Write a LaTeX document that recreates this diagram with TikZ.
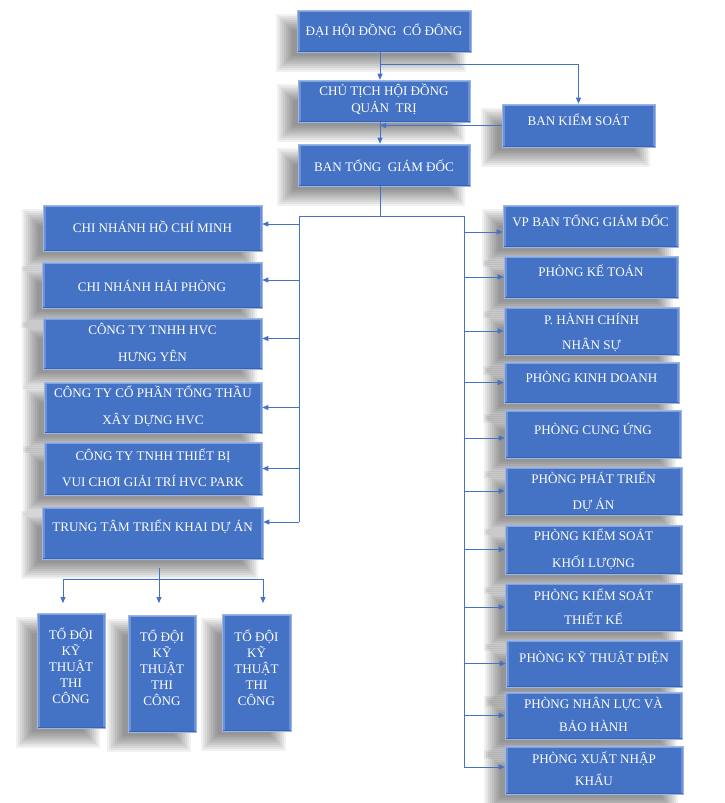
\documentclass[tikz,border=0pt]{standalone}
\usepackage{fontspec}
\setmainfont{Liberation Serif}
\usetikzlibrary{arrows.meta,calc}
\definecolor{boxfill}{HTML}{4472C4}
\definecolor{boxedge}{HTML}{9DB5E2}
\definecolor{bevside}{HTML}{6B92D8}
\definecolor{bevtop}{HTML}{7FA2E0}
\definecolor{bevbot}{HTML}{3A64B0}
\definecolor{linec}{HTML}{4472C4}
\pgfdeclarelayer{shadow}
\pgfsetlayers{shadow,main}
\tikzset{
  orgbox/.style={rectangle, inner sep=0pt, fill=boxfill, draw=boxedge, line width=0.6pt,
    path picture={
      \fill[bevside] (path picture bounding box.south west) rectangle ([xshift=2.5pt]path picture bounding box.north west);
      \fill[bevside] (path picture bounding box.south east) rectangle ([xshift=-2.5pt]path picture bounding box.north east);
      \fill[bevtop] (path picture bounding box.north west) rectangle ([yshift=-1.5pt]path picture bounding box.north east);
      \fill[bevbot] (path picture bounding box.south west) rectangle ([yshift=1.5pt]path picture bounding box.south east);
    }},
  shadowlayer/.style={fill=black, opacity=0.055},
  orgtext/.style={text=white, align=center, inner sep=0pt, font=\fontsize{13.1}{16}\selectfont},
  conn/.style={draw=linec, line width=0.9pt},
  arr/.style={conn, -{Triangle[length=6pt,width=5pt]}}
}
\newcommand\orgbox[7]{%
  \begin{pgfonlayer}{shadow}
  \foreach \k in {-8,-6,...,8} {
    \fill[shadowlayer] ({#2-13-(\k)},{#3+12-(\k)}) rectangle ({#4-13+(\k)},{#5+12+(\k)});
  }
  \end{pgfonlayer}
  \node[orgbox, minimum width=#4pt-#2pt, minimum height=#5pt-#3pt] (#1) at ({(#2+#4)/2},{(#3+#5)/2}) {};
  \node[orgtext] (#1t) at ({(#2+#4)/2},#6) {#7};
}
\begin{document}
\begin{tikzpicture}[x=1pt,y=-1pt]
\begin{pgfonlayer}{shadow}
\fill[white] (0,0) rectangle (724,803);
\end{pgfonlayer}
\useasboundingbox (0,0) rectangle (724,803);
% top part
\orgbox{top}{297}{10}{471}{52}{31}{ĐẠI HỘI ĐỒNG\ \ CỔ ĐÔNG}
\orgbox{cth}{298}{80}{470}{122}{99.5}{CHỦ TỊCH HỘI ĐỒNG\\[1pt]QUẢN\ \ TRỊ}
\orgbox{bks}{502}{104}{655}{147}{120}{BAN KIỂM SOÁT}
\orgbox{bt}{298}{144}{470}{186}{166}{BAN TỔNG\ \ GIÁM ĐỐC}
% left column
\orgbox{l1}{43}{205}{262}{251}{227}{CHI NHÁNH HỒ CHÍ MINH}
\orgbox{l2}{42}{262}{262}{308}{286}{CHI NHÁNH HẢI PHÒNG}
\orgbox{l3}{43}{318}{262}{369}{342.5}{CÔNG TY TNHH HVC\\[11pt]HƯNG YÊN}
\orgbox{l4}{44}{382}{262}{433}{406.5}{CÔNG TY CỔ PHẦN TỔNG THẦU\\[11pt]XÂY DỰNG HVC}
\orgbox{l5}{44}{442}{262}{495}{468}{CÔNG TY TNHH THIẾT BỊ\\[10pt]VUI CHƠI GIẢI TRÍ HVC PARK}
\orgbox{l6}{42}{507}{263}{559}{527}{TRUNG\ TÂM TRIỂN KHAI DỰ ÁN}
% right column
\orgbox{r1}{503}{205}{678}{247}{221}{VP BAN TỔNG GIÁM ĐỐC}
\orgbox{r2}{504}{256}{678}{298}{271}{PHÒNG KẾ TOÁN}
\orgbox{r3}{504}{307}{679}{355}{332.5}{P. HÀNH CHÍNH\\[9pt]NHÂN SỰ}
\orgbox{r4}{504}{362}{679}{403}{377}{PHÒNG KINH DOANH}
\orgbox{r5}{505}{410}{681}{458}{429}{PHÒNG CUNG ỨNG}
\orgbox{r6}{505}{467}{682}{515}{492}{PHÒNG PHÁT TRIỂN\\[10pt]DỰ ÁN}
\orgbox{r7}{505}{525}{682}{574}{549.5}{PHÒNG KIỂM SOÁT\\[11pt]KHỐI LƯỢNG}
\orgbox{r8}{505}{583}{682}{631}{607}{PHÒNG KIỂM SOÁT\\[8pt]THIẾT KẾ}
\orgbox{r9}{506}{640}{682}{687}{658}{PHÒNG KỸ THUẬT ĐIỆN}
\orgbox{r10}{505}{692}{682}{739}{714.5}{PHÒNG NHÂN LỰC VÀ\\[7pt]BẢO HÀNH}
\orgbox{r11}{505}{746}{683}{794}{769}{PHÒNG XUẤT NHẬP\\[6pt]KHẨU}
% teams
\orgbox{t1}{37}{613}{105}{728}{666}{TỔ ĐỘI\\KỸ\\THUẬT\\THI\\CÔNG}
\orgbox{t2}{128}{615}{196}{732}{668}{TỔ ĐỘI\\KỸ\\THUẬT\\THI\\CÔNG}
\orgbox{t3}{222}{614}{291}{731}{668}{TỔ ĐỘI\\KỸ\\THUẬT\\THI\\CÔNG}
% connector coordinates
\coordinate (sp) at (380,0);
\coordinate (br) at (380,64);
\coordinate (jn) at (380,216);
\coordinate (lb) at (299,216);
\coordinate (rb) at (464,216);
\coordinate (rbe) at (464,767);
\coordinate (tjs) at (159,568);
\coordinate (tj) at (159,579);
\coordinate (ta) at (63,579);
\coordinate (tb) at (263,579);
\coordinate (ea) at (63,603);
\coordinate (eb) at (159,603);
\coordinate (ec) at (263,603);
% top connectors
\draw[arr] (sp |- top.south) -- (sp |- cth.north);
\draw[arr] (br) -| (bks.north);
\draw[arr] (bks.west) -- (sp |- bks.west);
\draw[arr] (sp |- cth.south) -- (sp |- bt.north);
\draw[conn] (sp |- bt.south) -- (jn);
\draw[conn] (lb) -- (rb);
% left bus
\draw[conn] (lb) -- ([yshift=11pt]l6.east -| lb);
\draw[arr] ([yshift=4pt]l1.east -| lb) -- ([yshift=4pt]l1.east);
\draw[arr] ([yshift=5pt]l2.east -| lb) -- ([yshift=5pt]l2.east);
\draw[arr] ([yshift=5pt]l3.east -| lb) -- ([yshift=5pt]l3.east);
\draw[arr] (l4.east -| lb) -- (l4.east);
\draw[arr] (l5.east -| lb) -- (l5.east);
\draw[arr] ([yshift=11pt]l6.east -| lb) -- ([yshift=11pt]l6.east);
% right bus
\draw[conn] (rb) -- (rbe);
\draw[arr] ([yshift=-6pt]r1.west -| rb) -- ([yshift=-6pt]r1.west);
\draw[arr] (r2.west -| rb) -- (r2.west);
\draw[arr] (r3.west -| rb) -- (r3.west);
\draw[arr] (r4.west -| rb) -- (r4.west);
\draw[arr] ([yshift=-4pt]r5.west -| rb) -- ([yshift=-4pt]r5.west);
\draw[arr] (r6.west -| rb) -- (r6.west);
\draw[arr] (r7.west -| rb) -- (r7.west);
\draw[arr] (r8.west -| rb) -- (r8.west);
\draw[arr] (r9.west -| rb) -- (r9.west);
\draw[arr] (r10.west -| rb) -- (r10.west);
\draw[arr] (rbe) -- (rbe -| r11.west);
% teams
\draw[conn] (tjs) -- (tj);
\draw[conn] (ta) -- (tb);
\draw[arr] (ta) -- (ea);
\draw[arr] (tj) -- (eb);
\draw[arr] (tb) -- (ec);
\end{tikzpicture}
\end{document}
